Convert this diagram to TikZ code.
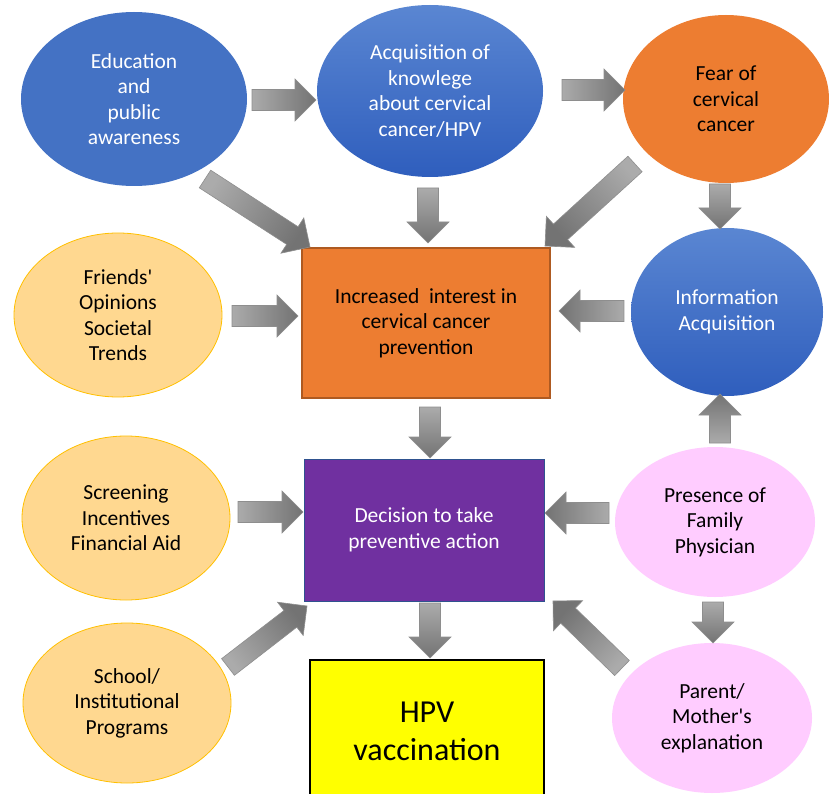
\documentclass[tikz,border=0pt]{standalone}
\usepackage{fontspec}
\setmainfont{Carlito}[Ligatures=TeXOff]
\usetikzlibrary{shapes.geometric,calc}
\definecolor{bluee}{HTML}{4472C4}
\definecolor{bluetop}{HTML}{5A86D2}
\definecolor{bluebot}{HTML}{2F5EBD}
\definecolor{orangee}{HTML}{ED7D31}
\definecolor{orangedk}{HTML}{AE5A21}
\definecolor{goldfill}{HTML}{FFD890}
\definecolor{goldline}{HTML}{FFC000}
\definecolor{pinkfill}{HTML}{FFCCFF}
\definecolor{purplee}{HTML}{7030A0}
\definecolor{decline}{HTML}{2F528F}
\definecolor{hpvyellow}{HTML}{FFFF00}
\definecolor{arrlight}{HTML}{ABABAB}
\definecolor{arrdark}{HTML}{737373}
\definecolor{arrline}{HTML}{8E8E8E}

\makeatletter
\newcommand\blockarrow[2]{%
  \begin{scope}
  \pgfpointdiff{\pgfpointanchor{#1}{center}}{\pgfpointanchor{#2}{center}}%
  \edef\bdx{\the\pgf@x}\edef\bdy{\the\pgf@y}%
  \pgfmathsetmacro\barrang{atan2(\bdy,\bdx)-90}%
  \coordinate (bhd) at ($(#2)!21pt!(#1)$);
  \shade[blockarr, shading angle=\barrang]
    ($(#1)!10.5pt!90:(#2)$) -- ($(bhd)!10.5pt!90:(#2)$) -- ($(bhd)!21pt!90:(#2)$) -- (#2)
    -- ($(bhd)!21pt!-90:(#2)$) -- ($(bhd)!10.5pt!-90:(#2)$) -- ($(#1)!10.5pt!-90:(#2)$) -- cycle;
  \end{scope}}
\makeatother

\tikzset{
  ell/.style={ellipse, inner sep=0pt, align=center, font=\fontsize{21.5}{25.5}\selectfont},
  blueflat/.style={ell, fill=bluee, text=white},
  bluegrad/.style={ell, top color=bluetop, bottom color=bluebot, text=white},
  orangeell/.style={ell, fill=orangee, text=black},
  goldell/.style={ell, fill=goldfill, draw=goldline, line width=0.8pt, text=black},
  pinkell/.style={ell, fill=pinkfill, text=black},
  box/.style={rectangle, inner sep=0pt, align=center, font=\fontsize{21.5}{25.5}\selectfont},
  blockarr/.style={top color=arrdark, bottom color=arrlight, draw=arrline, line width=0.6pt},
}

\begin{document}
\begin{tikzpicture}[x=1pt,y=-1pt]
\useasboundingbox (0,0) rectangle (829,794);
\clip (0,0) rectangle (829,794);
\fill[white] (0,0) rectangle (829,794);

% nodes
\node[blueflat, minimum width=226pt, minimum height=174pt] (edu) at (134,99) {Education\\and\\public\\awareness};
\node[bluegrad, minimum width=226pt, minimum height=172pt] (acq) at (430,91) {Acquisition of\\knowlege\\about cervical\\cancer/HPV};
\node[orangeell, minimum width=206pt, minimum height=168pt] (fear) at (726,99) {Fear of\\cervical\\cancer};
\node[goldell, minimum width=208pt, minimum height=164pt] (fri) at (118,315) {Friends'\\Opinions\\Societal\\Trends};
\node[bluegrad, minimum width=192pt, minimum height=168pt] (info) at (727,312) {Information\\Acquisition};
\node[box, fill=orangee, draw=orangedk, line width=1.5pt, minimum width=248pt, minimum height=150pt] (inc) at (426,323) {Increased\ \ interest in\\cervical cancer\\prevention};
\node[goldell, minimum width=208pt, minimum height=164pt] (scr) at (126,518) {Screening\\Incentives\\Financial Aid};
\node[box, fill=purplee, draw=decline, line width=1pt, text=white, minimum width=240pt, minimum height=142pt] (dec) at (424,530) {Decision to take\\preventive action};
\node[pinkell, minimum width=200pt, minimum height=150pt] (pres) at (715,522) {Presence of\\Family\\Physician};
\node[goldell, minimum width=208pt, minimum height=160pt] (sch) at (127,703) {School/\\Institutional\\Programs};
\node[pinkell, minimum width=200pt, minimum height=150pt] (par) at (712,718) {Parent/\\Mother's\\explanation};
\node[box, fill=hpvyellow, draw=black, line width=2pt, minimum width=234pt, minimum height=142pt, font=\fontsize{32}{38}\selectfont] (hpv) at (427,731) {HPV\\vaccination};

% arrow end points
\coordinate (a1s) at (252,100);  \coordinate (a1e) at (316,100);
\coordinate (a2s) at (562,90);   \coordinate (a2e) at (625,90);
\coordinate (a3s) at (205,179);  \coordinate (a3e) at (310,247);
\coordinate (a4s) at (428,188);  \coordinate (a4e) at (428,243);
\coordinate (a5s) at (635,164);  \coordinate (a5e) at (545,246);
\coordinate (a6s) at (720,184);  \coordinate (a6e) at (720,229);
\coordinate (a7s) at (232,316);  \coordinate (a7e) at (298,316);
\coordinate (a8s) at (624,311);  \coordinate (a8e) at (559,311);
\coordinate (a9s) at (430,407);  \coordinate (a9e) at (430,458);
\coordinate (a10s) at (720,443); \coordinate (a10e) at (720,394);
\coordinate (a11s) at (238,512); \coordinate (a11e) at (303,512);
\coordinate (a12s) at (609,513); \coordinate (a12e) at (545,513);
\coordinate (a13s) at (228,667); \coordinate (a13e) at (307,606);
\coordinate (a14s) at (430,603); \coordinate (a14e) at (430,658);
\coordinate (a15s) at (713,602); \coordinate (a15e) at (713,643);
\coordinate (a16s) at (622,668); \coordinate (a16e) at (553,601);

\blockarrow{a1s}{a1e}
\blockarrow{a2s}{a2e}
\blockarrow{a3s}{a3e}
\blockarrow{a4s}{a4e}
\blockarrow{a5s}{a5e}
\blockarrow{a6s}{a6e}
\blockarrow{a7s}{a7e}
\blockarrow{a8s}{a8e}
\blockarrow{a9s}{a9e}
\blockarrow{a10s}{a10e}
\blockarrow{a11s}{a11e}
\blockarrow{a12s}{a12e}
\blockarrow{a13s}{a13e}
\blockarrow{a14s}{a14e}
\blockarrow{a15s}{a15e}
\blockarrow{a16s}{a16e}
\end{tikzpicture}
\end{document}
